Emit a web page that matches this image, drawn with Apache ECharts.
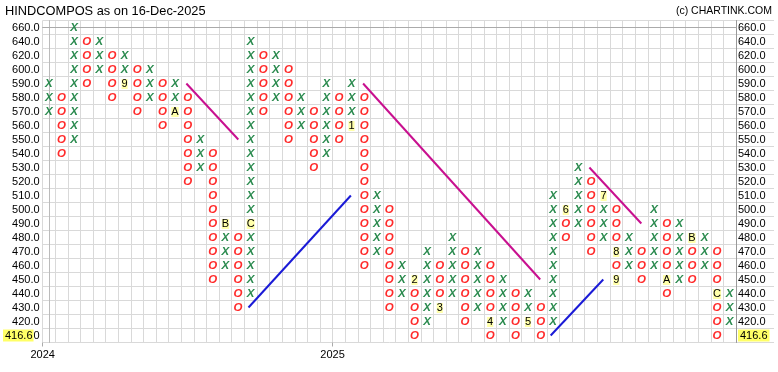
<!DOCTYPE html>
<html><head><meta charset="utf-8">
<script src="https://cdn.jsdelivr.net/npm/echarts@6/dist/echarts.min.js"></script>
<style>html,body{margin:0;padding:0;background:#fff}#c{width:778px;height:372px}</style>
</head><body><div id="c"></div>
<script>
// ---- data ----
const rowPrices = [660,640,620,600,590,580,570,560,550,540,530,520,510,500,490,480,470,460,450,440,430,420,410];
const colTypes = ['X','O','X','O','X','O','X','O','X','O','X','O','X','O','X','O','X','O','X','O','X','O','X','O','X','O','X','O','X','O','X','O','X','O','X','O','X','O','X','O','X','O','X','O','X','O','X','O','X','O','X','O','X','O','X'];
const colLows  = [570,540,550,590,600,580,590,570,580,560,570,520,530,450,460,430,440,570,580,550,560,530,540,550,560,460,470,430,440,410,420,430,440,420,430,410,420,410,420,410,420,480,490,470,480,450,460,450,460,440,450,450,460,410,420];
const colHighs = [590,580,660,640,640,620,620,600,600,590,590,580,550,540,490,480,640,620,620,600,580,570,590,580,590,580,510,500,460,450,470,460,480,470,470,460,450,440,440,430,510,500,530,520,510,500,480,470,500,490,490,480,480,470,440];
const markerCols   = [6,10,14,16,24,29,31,35,38,41,44,45,45,49,51,53];
const markerPrices = [590,570,490,490,560,450,430,420,420,500,510,470,450,450,480,440];
const markerLabels = ['9','A','B','C','1','2','3','4','5','6','7','8','9','A','B','C'];
const lastPrice = 416.6;
const yearLabels = ['2024','2025'];
const yearStartCols = [0, 23];
const trendStartCols   = [10.9, 15.83, 24.92, 39.8, 42.87];
const trendStartPrices = [590, 430, 590, 410, 530];
const trendEndCols     = [15.02, 23.95, 38.97, 43.97, 46.99];
const trendEndPrices   = [550, 510, 450, 450, 490];
const trendKinds       = ['down','up','down','up','down'];

// ---- build ----
const rowOf = p => rowPrices.indexOf(p);
const rowLabels = rowPrices.map(p => p.toFixed(1));
const colNames = colTypes.map((t, i) => String(i));
const markerKey = {};
markerCols.forEach((c, i) => { markerKey[c + '_' + markerPrices[i]] = markerLabels[i]; });
const xBoxes = [], oBoxes = [];
colTypes.forEach((t, c) => {
  rowPrices.forEach((p, r) => {
    if (p >= colLows[c] && p <= colHighs[c] && !markerKey[c + '_' + p]) {
      (t === 'X' ? xBoxes : oBoxes).push([c, r]);
    }
  });
});
const markerData = markerCols.map((c, i) => [c, rowOf(markerPrices[i])]);

const FONT = '"Liberation Sans", Arial, sans-serif';
function glyphSeries(data, txt, color) {
  return {
    type: 'custom', xAxisIndex: 0, yAxisIndex: 0, data: data, clip: false,
    renderItem: function (params, api) {
      const p = api.coord([api.value(0), api.value(1)]);
      return { type: 'text', x: p[0], y: p[1] + 0.5,
        style: { text: txt, fill: color, fontSize: 11.5, fontFamily: FONT, fontStyle: 'italic', fontWeight: 'bold',
                 align: 'center', verticalAlign: 'middle' } };
    }
  };
}
const markerSeries = {
  type: 'custom', xAxisIndex: 0, yAxisIndex: 0, data: markerData, clip: false,
  renderItem: function (params, api) {
    const p = api.coord([api.value(0), api.value(1)]);
    return { type: 'text', x: p[0], y: p[1] + 0.5,
      style: { text: markerLabels[params.dataIndex], fill: '#000', fontSize: 11, fontFamily: FONT,
               align: 'center', verticalAlign: 'middle', backgroundColor: '#ffffaa',
               padding: [0, 0, 0, 0], lineHeight: 10 } };
  }
};
const trendSeries = trendKinds.map((k, i) => ({
  type: 'line', xAxisIndex: 1, yAxisIndex: 1, symbol: 'none', silent: true,
  data: [[trendStartCols[i], rowOf(trendStartPrices[i])], [trendEndCols[i], rowOf(trendEndPrices[i])]],
  lineStyle: { width: 2, color: k === 'down' ? '#c8108f' : '#1a1ad6' }
}));

const lastIdx = rowPrices.length - 1;
const chart = echarts.init(document.getElementById('c'), null, { renderer: 'canvas' });
chart.setOption({
  animation: false,
  backgroundColor: '#fff',
  textStyle: { fontFamily: FONT },
  graphic: [
    { type: 'text', left: 5, top: 5, style: { text: 'HINDCOMPOS as on 16-Dec-2025', fill: '#000', fontSize: 12.8, fontFamily: FONT } },
    { type: 'text', right: 6, top: 6, style: { text: '(c) CHARTINK.COM', fill: '#000', fontSize: 10.5, fontFamily: FONT } }
  ],
  grid: [
    { left: 40.5, top: 20.5, width: 695.5, height: 322, containLabel: false },
    { left: 736, top: 20.5, width: 38, height: 322, containLabel: false }
  ],
  xAxis: [
    { type: 'category', gridIndex: 0, data: colNames, boundaryGap: true,
      axisLine: { show: true, lineStyle: { color: '#aaa', width: 1 } },
      axisTick: { show: false }, axisLabel: { show: false },
      splitLine: { show: true, interval: 0, lineStyle: { color: '#d9d9d9', width: 1 } } },
    { type: 'value', gridIndex: 0, min: -0.5, max: colTypes.length - 0.5, position: 'bottom',
      axisLine: { show: false }, splitLine: { show: false },
      axisTick: { show: true, customValues: yearStartCols.map(c => c - 0.5), length: 4, lineStyle: { color: '#aaa' } },
      axisLabel: { show: true, customValues: yearStartCols.map(c => c - 0.5), margin: 7, fontSize: 11, color: '#000', fontFamily: FONT,
        formatter: v => { const i = yearStartCols.indexOf(Math.round(v + 0.5)); return i >= 0 ? yearLabels[i] : ''; } } },
    { type: 'value', gridIndex: 1, show: false }
  ],
  yAxis: [
    { type: 'category', gridIndex: 0, data: rowLabels, inverse: true, boundaryGap: true,
      axisLine: { show: true, lineStyle: { color: '#bbb' } }, axisTick: { show: false },
      splitLine: { show: true, interval: 0, lineStyle: { color: '#d9d9d9', width: 1 } },
      axisLabel: { show: true, interval: 0, margin: 3, fontSize: 11, color: '#000', fontFamily: FONT,
        formatter: (v, i) => i === lastIdx ? '{hl|' + lastPrice.toFixed(1) + '}{n|' + v.slice(-1) + '}' : v,
        rich: { hl: { backgroundColor: '#ffff66', padding: [1, 1, 0, 2], fontSize: 11, color: '#000', fontFamily: FONT },
                n: { fontSize: 11, color: '#000', fontFamily: FONT } } } },
    { type: 'value', gridIndex: 0, min: -0.5, max: rowPrices.length - 0.5, inverse: true, show: false },
    { type: 'category', gridIndex: 1, data: rowLabels, inverse: true, boundaryGap: true, position: 'left',
      axisLine: { show: true, lineStyle: { color: '#999' } }, axisTick: { show: false },
      splitLine: { show: true, interval: 0, lineStyle: { color: '#d9d9d9', width: 1 } },
      axisLabel: { show: true, inside: true, interval: 0, margin: 2, fontSize: 11, color: '#000', fontFamily: FONT, align: 'left',
        formatter: (v, i) => i === lastIdx ? '{hl|' + lastPrice.toFixed(1) + '}' : v,
        rich: { hl: { backgroundColor: '#ffff66', padding: [1, 2, 0, 2], fontSize: 11, color: '#000', fontFamily: FONT } } } }
  ],
  series: [
    glyphSeries(xBoxes, 'X', '#2a8a4e'),
    glyphSeries(oBoxes, 'O', '#ff2b2b'),
    markerSeries
  ].concat(trendSeries)
});
</script></body></html>
